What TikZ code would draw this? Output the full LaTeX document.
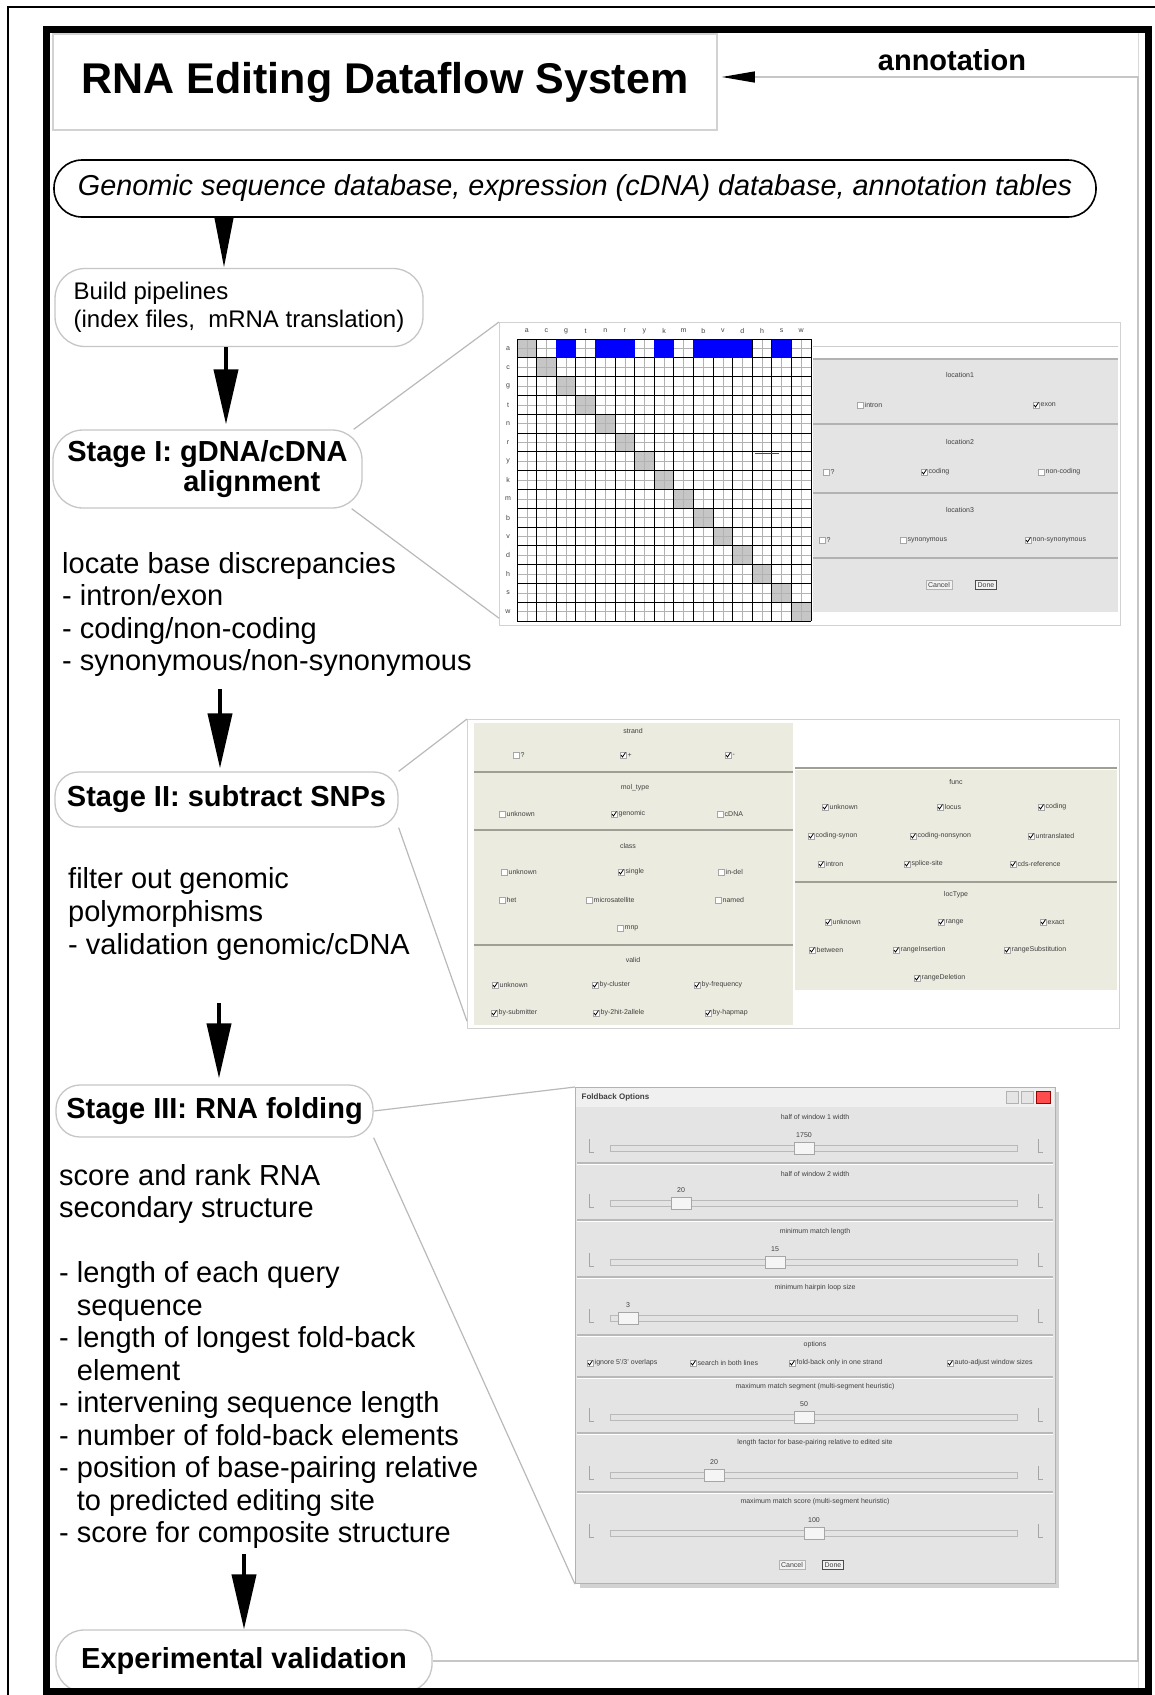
\documentclass[tikz,border=0pt]{standalone}
\usepackage{fontspec}
\setmainfont{Liberation Sans}
\usetikzlibrary{arrows.meta}

\definecolor{panelbeige}{HTML}{ECEBDF}
\definecolor{panelgray}{HTML}{E4E4E4}
\definecolor{rulegray}{HTML}{A09F96}

\tikzset{
  roundbox/.style={draw=gray!45, line width=1.3pt, rounded corners=24pt, fill=white, inner sep=0pt},
  stagefont/.style={font=\fontsize{29}{30}\selectfont\bfseries},
  desctext/.style={anchor=north west, align=left, inner sep=0pt, font=\fontsize{29}{32.5}\selectfont},
  flow/.style={line width=4pt, -{Triangle[length=55pt,width=24pt]}},
  zoomline/.style={draw=gray!55, line width=1.2pt},
  fbline/.style={draw=gray!45, line width=1.2pt},
  shotframe/.style={draw=gray!35, line width=1.2pt, fill=white, anchor=north west, inner sep=0pt},
  tinytext/.style={font=\fontsize{7}{8}\selectfont, inner sep=0.5pt, text=black!75},
}

% check box with its label: x, y, label, checked (1/0)
\newcommand{\optitem}[4]{%
  \draw[gray!70, fill=white, line width=0.5pt] (#1-3,#2-3) rectangle (#1+3,#2+3);
  \ifnum#4=1 \draw[black, line width=0.8pt] (#1-2,#2) -- (#1-0.5,#2+2) -- (#1+2.5,#2-2.5);\fi
  \node[tinytext, anchor=west] at (#1+4,#2) {#3};}

% slider row: label y, label, value, track y, thumb x
\newcommand{\slideritem}[5]{%
  \node[tinytext] at (815,#1) {#2};
  \draw[gray!55, fill=gray!22] (610,#4-3) rectangle (1017,#4+3);
  \draw[gray!70, fill=gray!8] (#5-10,#4-6) rectangle (#5+10,#4+6);
  \node[tinytext] at (#5,#4-13) {#3};
  \draw[gray!70] (589,#4-9) -- (589,#4+4) -- (594,#4+4);
  \draw[gray!70] (1038,#4-9) -- (1038,#4+4) -- (1043,#4+4);}

\begin{document}
\begin{tikzpicture}[x=1pt, y=-1pt]
\useasboundingbox (0,0) rectangle (1155,1695);

% canvas edge and title
\draw[line width=1.5pt] (8,1700) -- (8,7) -- (1160,7);
\draw[gray!30, line width=1pt] (1138,33) -- (1138,1690);
\node[draw=gray!35, line width=1.5pt, minimum width=664pt, minimum height=96pt, inner sep=0pt,
  font=\fontsize{43}{50}\selectfont\bfseries] (title) at (385,82) {RNA Editing Dataflow System};
\node[font=\fontsize{29}{32}\selectfont\bfseries, inner sep=0pt] (annot) at (952,60) {annotation};

% data sources
\node[draw=black, line width=1.6pt, rounded corners=28pt, minimum width=1042pt, minimum height=57pt,
  inner sep=0pt, font=\fontsize{28.8}{32}\selectfont\itshape] (genomic) at (575,188.5)
  {Genomic sequence database, expression (cDNA) database, annotation tables};

% pipeline steps
\node[roundbox, rounded corners=30pt, align=left, minimum width=368pt, minimum height=78pt,
  font=\fontsize{24}{28}\selectfont] (build) at (239,307.5)
  {Build pipelines\\(index files,\ \ mRNA translation)};
\node[roundbox, rounded corners=30pt, stagefont, align=left, minimum width=309pt, minimum height=78pt]
  (stage1) at (207.5,469) {Stage I: gDNA/cDNA\\\hspace*{4em}alignment};
\node[desctext] (desc1) at (62,552)
  {locate base discrepancies\\- intron/exon\\- coding/non-coding\\- synonymous/non-synonymous};
\node[roundbox, stagefont, minimum width=343pt, minimum height=55pt] (stage2) at (226.5,799.5)
  {Stage II: subtract SNPs};
\node[desctext, font=\fontsize{29}{33}\selectfont] (desc2) at (68,867)
  {filter out genomic\\polymorphisms\\- validation genomic/cDNA};
\node[roundbox, stagefont, minimum width=317pt, minimum height=52pt] (stage3) at (214.5,1111)
  {Stage III: RNA folding};
\node[desctext] (desc3) at (59,1164)
  {score and rank RNA\\secondary structure\\[32.5pt]- length of each query\\\phantom{- }sequence\\
   - length of longest fold-back\\\phantom{- }element\\- intervening sequence length\\
   - number of fold-back elements\\- position of base-pairing relative\\
   \phantom{- }to predicted editing site\\- score for composite structure};
\node[roundbox, rounded corners=28pt, stagefont, minimum width=376pt, minimum height=62pt]
  (expval) at (244,1661) {Experimental validation};

% main flow
\coordinate (ax1) at (224,0);
\coordinate (ax2) at (226,0);
\coordinate (ax3) at (220,689);
\coordinate (ax4) at (219,1003);
\coordinate (ax5) at (244,1554);
\draw[flow, -{Triangle[length=50pt,width=18pt]}] (ax1 |- genomic.south) -- (ax1 |- build.north);
\draw[flow, shorten >=5pt] (ax2 |- build.south) -- (ax2 |- stage1.north);
\draw[flow, shorten >=3pt] (ax3) -- (ax3 |- stage2.north);
\draw[flow, shorten >=6pt] (ax4) -- (ax4 |- stage3.north);
\draw[flow] (ax5) -- (ax5 |- expval.north);

% feedback into annotation
\coordinate (fbtop) at (1138,77);
\draw[fbline, -{Triangle[length=33pt,width=11pt,color=black]}, shorten >=4pt]
  (expval.east) -- (expval.east -| fbtop) -- (fbtop) -- (fbtop -| title.east);

% zoom lines to the screenshots
\node[shotframe, minimum width=621pt, minimum height=303pt] (shot1) at (499,322) {};
\node[shotframe, minimum width=652pt, minimum height=309pt] (shot2) at (467,719) {};
\fill[gray!35] (580,1092) rectangle (1059,1588);
\node[shotframe, draw=gray!60, fill=panelgray, minimum width=480pt, minimum height=496pt] (shot3) at (575,1087) {};
\draw[zoomline] ([xshift=-9pt]stage1.north east) -- (shot1.north west);
\draw[zoomline] ([xshift=-11pt]stage1.south east) -- ([yshift=8pt]shot1.south west);
\draw[zoomline] (stage2.north east) -- (shot2.north west);
\draw[zoomline] (stage2.south east) -- ([yshift=8pt]shot2.south west);
\draw[zoomline] (stage3.east) -- (shot3.north west);
\draw[zoomline] (stage3.south east) -- (shot3.south west);

% screenshot 1: alignment matrix and location filter
\foreach \l [count=\i from 0] in {a,c,g,t,n,r,y,k,m,b,v,d,h,s,w} {
  \node[tinytext] at (517+19.6*\i+9.8,331) {\l};
  \node[tinytext] at (508,339+18.8*\i+9.4) {\l};
  \fill[gray!45] (517+19.6*\i,339+18.8*\i) rectangle ++(19.6,18.8);
}
\foreach \i in {0,...,14} {
  \draw[gray!60, line width=0.4pt] (517+19.6*\i+9.8,339) -- ++(0,282);
  \draw[gray!60, line width=0.4pt] (517,339+18.8*\i+9.4) -- ++(294,0);
}
\foreach \i in {0,...,15} {
  \draw[line width=1pt] (517+19.6*\i,339) -- ++(0,282);
  \draw[line width=1pt] (517,339+18.8*\i) -- ++(294,0);
}
\fill[blue] (517+19.6*2,339.5) rectangle ++(19.6,18.3);
\fill[blue] (517+19.6*4,339.5) rectangle ++(39.2,18.3);
\fill[blue] (517+19.6*7,339.5) rectangle ++(19.6,18.3);
\fill[blue] (517+19.6*9,339.5) rectangle ++(58.8,18.3);
\fill[blue] (517+19.6*13,339.5) rectangle ++(19.6,18.3);
\draw[red, line width=1pt] (755,453) -- (779,453);
\draw[gray!40] (813,346) -- (1118,346);
\fill[panelgray] (813,359) rectangle (1118,612);
\foreach \yy in {359,424,493,558} \draw[gray!60, line width=2pt] (813,\yy) -- (1118,\yy);
\node[tinytext] at (960,375) {location1};
\optitem{860}{405}{intron}{0} \optitem{1036}{405}{exon}{1}
\node[tinytext] at (960,442) {location2};
\optitem{826}{472}{?}{0} \optitem{924}{472}{coding}{1} \optitem{1041}{472}{non-coding}{0}
\node[tinytext] at (960,510) {location3};
\optitem{822}{540}{?}{0} \optitem{903}{540}{synonymous}{0} \optitem{1028}{540}{non-synonymous}{1}
\node[tinytext, draw=gray!60, fill=gray!10, inner sep=2pt] at (939,585) {Cancel};
\node[tinytext, draw=black!70, fill=gray!10, inner sep=2pt] at (986,585) {Done};

% screenshot 2: SNP filter
\fill[panelbeige] (474,723) rectangle (793,1025);
\fill[panelbeige] (795,770) rectangle (1117,990);
\foreach \yy in {772,830,945} \draw[rulegray, line width=2pt] (474,\yy) -- (793,\yy);
\foreach \yy in {768,882} \draw[rulegray, line width=2pt] (795,\yy) -- (1117,\yy);
\node[tinytext] at (633,731) {strand};
\optitem{516}{755}{?}{0} \optitem{623}{755}{+}{1} \optitem{728}{755}{-}{1}
\node[tinytext] at (635,788) {mol\_type};
\optitem{502}{814}{unknown}{0} \optitem{614}{814}{genomic}{1} \optitem{720}{814}{cDNA}{0}
\node[tinytext] at (628,846) {class};
\optitem{504}{872}{unknown}{0} \optitem{621}{872}{single}{1} \optitem{721}{872}{in-del}{0}
\optitem{502}{900}{het}{0} \optitem{589}{900}{microsatellite}{0} \optitem{718}{900}{named}{0}
\optitem{620}{928}{mnp}{0}
\node[tinytext] at (633,960) {valid};
\optitem{495}{985}{unknown}{1} \optitem{595}{985}{by-cluster}{1} \optitem{697}{985}{by-frequency}{1}
\optitem{494}{1013}{by-submitter}{1} \optitem{596}{1013}{by-2hit-2allele}{1} \optitem{708}{1013}{by-hapmap}{1}
\node[tinytext] at (956,782) {func};
\optitem{825}{807}{unknown}{1} \optitem{940}{807}{locus}{1} \optitem{1041}{807}{coding}{1}
\optitem{811}{836}{coding-synon}{1} \optitem{913}{836}{coding-nonsynon}{1} \optitem{1031}{836}{untranslated}{1}
\optitem{821}{864}{intron}{1} \optitem{907}{864}{splice-site}{1} \optitem{1013}{864}{cds-reference}{1}
\node[tinytext] at (956,895) {locType};
\optitem{828}{922}{unknown}{1} \optitem{941}{922}{range}{1} \optitem{1043}{922}{exact}{1}
\optitem{812}{950}{between}{1} \optitem{896}{950}{rangeInsertion}{1} \optitem{1007}{950}{rangeSubstitution}{1}
\optitem{917}{978}{rangeDeletion}{1}

% screenshot 3: foldback options window
\fill[gray!12] (576,1088) rectangle (1054,1107);
\node[tinytext, anchor=west, font=\fontsize{8}{9}\selectfont\bfseries] at (581,1097) {Foldback Options};
\draw[gray!60, fill=gray!20] (1006,1091) rectangle ++(12,12);
\draw[gray!60, fill=gray!20] (1021,1091) rectangle ++(12,12);
\draw[red!60!black, fill=red!70] (1036,1091) rectangle ++(14,12);
\foreach \yy in {1163,1220,1277,1335,1377,1433,1492} {
  \draw[gray!55, line width=1.2pt] (577,\yy) -- (1053,\yy);
  \draw[white, line width=0.8pt] (577,\yy+1.5) -- (1053,\yy+1.5);
}
\slideritem{1117}{half of window 1 width}{1750}{1148}{804}
\slideritem{1174}{half of window 2 width}{20}{1203}{681}
\slideritem{1232}{minimum match length}{15}{1262}{775}
\slideritem{1288}{minimum hairpin loop size}{3}{1318}{628}
\node[tinytext] at (815,1345) {options};
\optitem{590}{1363}{ignore 5'/3' overlaps}{1} \optitem{693}{1363}{search in both lines}{1}
\optitem{792}{1363}{fold-back only in one strand}{1} \optitem{950}{1363}{auto-adjust window sizes}{1}
\slideritem{1387}{maximum match segment (multi-segment heuristic)}{50}{1417}{804}
\slideritem{1443}{length factor for base-pairing relative to edited site}{20}{1475}{714}
\slideritem{1502}{maximum match score (multi-segment heuristic)}{100}{1533}{814}
\node[tinytext, draw=gray!60, fill=gray!10, inner sep=2pt] at (792,1565) {Cancel};
\node[tinytext, draw=black!70, fill=gray!10, inner sep=2pt] at (833,1565) {Done};

% outer frame
\draw[line width=7pt] (46.5,29.5) rectangle (1148.5,1691.5);
\end{tikzpicture}
\end{document}
